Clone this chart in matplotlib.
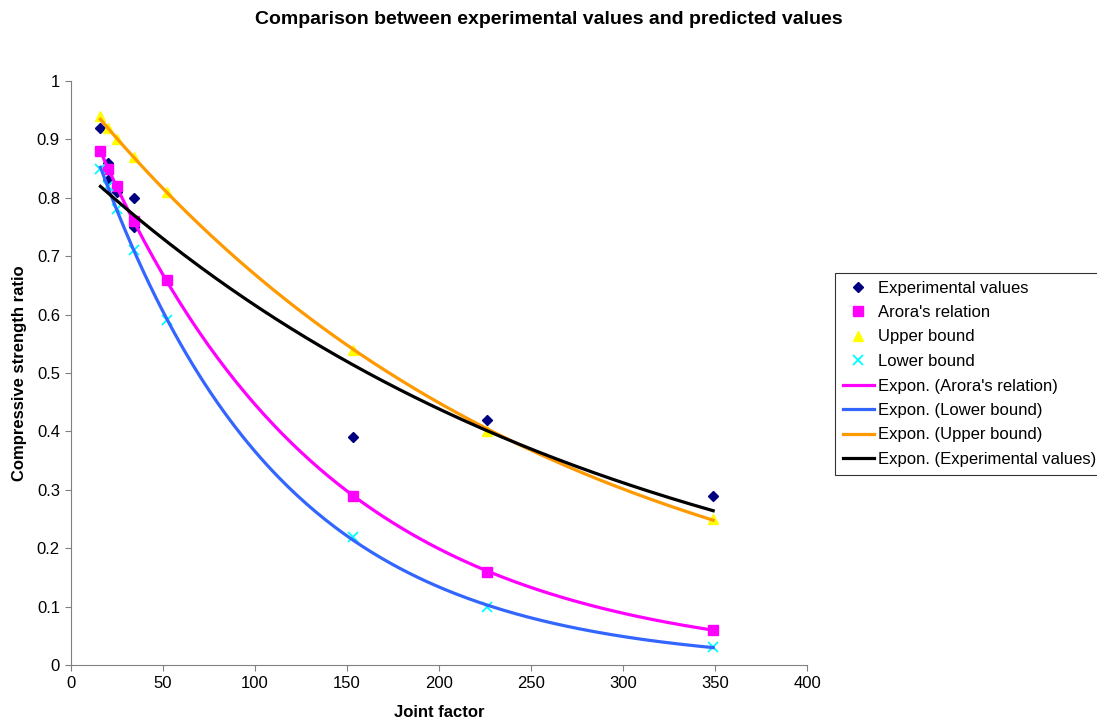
import numpy as np
import matplotlib
matplotlib.use("Agg")
from matplotlib import pyplot as plt

plt.rcParams['font.family'] = ['Liberation Sans', 'DejaVu Sans']

# joint factor values
jf = [16, 20, 25, 34, 52, 153, 226, 349]
arora = [0.88, 0.85, 0.82, 0.76, 0.66, 0.29, 0.16, 0.06]
upper = [0.94, 0.92, 0.90, 0.87, 0.81, 0.54, 0.40, 0.25]
lower = [0.85, 0.82, 0.78, 0.71, 0.59, 0.22, 0.10, 0.03]

exp_jf = [16, 20, 20, 25, 34, 34, 52, 153, 226, 349]
exp_vals = [0.92, 0.86, 0.83, 0.81, 0.80, 0.75, 0.66, 0.39, 0.42, 0.29]


def expon(x, y):
    # excel style exponential trendline: y = a*exp(b*x)
    b, ln_a = np.polyfit(x, np.log(y), 1)
    xs = np.linspace(min(x), max(x), 200)
    return xs, np.exp(ln_a) * np.exp(b * xs)


fig = plt.figure(figsize=(10.97, 7.26), dpi=100)
ax = fig.add_axes([71/1097, 1-665/726, (807-71)/1097, (665-81)/726])

h1, = ax.plot(exp_jf, exp_vals, 'D', color='#000080', ms=5.5, ls='none', label='Experimental values')
h2, = ax.plot(jf, arora, 's', color='#FF00FF', ms=7, ls='none', label="Arora's relation")
h3, = ax.plot(jf, upper, '^', color='#FFFF00', ms=7, ls='none', label='Upper bound')
h4, = ax.plot(jf, lower, 'x', color='#00FFFF', ms=7, mew=1.3, ls='none', label='Lower bound')

xs, ys = expon(jf, arora)
t1, = ax.plot(xs, ys, color='#FF00FF', lw=2.3, label="Expon. (Arora's relation)")
xs, ys = expon(jf, lower)
t2, = ax.plot(xs, ys, color='#3366FF', lw=2.3, label='Expon. (Lower bound)')
xs, ys = expon(jf, upper)
t3, = ax.plot(xs, ys, color='#FF9900', lw=2.3, label='Expon. (Upper bound)')
xs, ys = expon(exp_jf, exp_vals)
t4, = ax.plot(xs, ys, color='black', lw=2.3, label='Expon. (Experimental values)')

ax.set_xlim(0, 400)
ax.set_ylim(0, 1)
ax.set_xticks(np.arange(0, 401, 50))
ax.set_yticks(np.arange(0, 1.01, 0.1))
ax.set_yticklabels(['0', '0.1', '0.2', '0.3', '0.4', '0.5', '0.6', '0.7', '0.8', '0.9', '1'])
ax.tick_params(direction='out', length=4, labelsize=12, color='#808080', pad=4)
for s in ['top', 'right']:
    ax.spines[s].set_visible(False)
for s in ['left', 'bottom']:
    ax.spines[s].set_color('#808080')

ax.set_xlabel('Joint factor', fontsize=12, fontweight='bold', labelpad=10)
ax.set_ylabel('Compressive strength ratio', fontsize=12, fontweight='bold', labelpad=7)
fig.text(0.5, 1-20/726, 'Comparison between experimental values and predicted values',
         fontsize=14, fontweight='bold', ha='center', va='center')

leg = fig.legend(handles=[h1, h2, h3, h4, t1, t2, t3, t4], loc='upper left',
                 bbox_to_anchor=(835/1097, 1-273/726), fontsize=12,
                 frameon=True, fancybox=False, edgecolor='black',
                 borderaxespad=0, handlelength=1.9, labelspacing=0.57,
                 borderpad=0.45, handletextpad=0.2)
leg.get_frame().set_linewidth(0.8)

fig.savefig('out.png', dpi=100)
